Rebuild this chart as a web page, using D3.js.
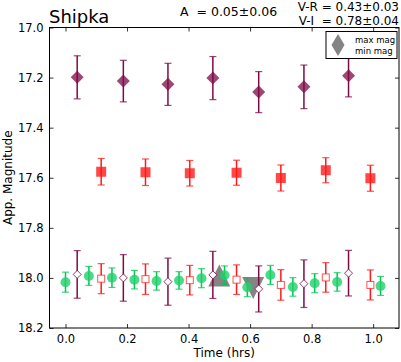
<!DOCTYPE html>
<html>
<head>
<meta charset="utf-8">
<script src="https://cdn.jsdelivr.net/npm/d3@7"></script>
<style>
  body { margin: 0; background: #fff; }
  text { font-family: "DejaVu Sans", sans-serif; }
</style>
</head>
<body>
<div id="chart"></div>
<script>
const w = 401;
const h = 362;

// I band (filled diamonds) and I shifted by V-I (open diamonds)
const iTime = [0.038, 0.188, 0.333, 0.479, 0.628, 0.775, 0.920];
const iMag = [17.199, 17.214, 17.227, 17.202, 17.258, 17.237, 17.193];
const iErr = [0.086, 0.083, 0.084, 0.086, 0.082, 0.087, 0.084];
const iShift = [17.986, 18.000, 18.015, 17.988, 18.044, 18.023, 17.981];
const iShiftErr = [0.095, 0.093, 0.094, 0.094, 0.092, 0.095, 0.091];

// R band (filled squares) and R shifted by V-R (open squares)
const rTime = [0.116, 0.260, 0.404, 0.556, 0.700, 0.846, 0.991];
const rMag = [17.576, 17.578, 17.582, 17.580, 17.601, 17.570, 17.602];
const rErr = [0.053, 0.053, 0.051, 0.050, 0.052, 0.050, 0.052];
const rShift = [18.003, 18.005, 18.009, 18.007, 18.028, 17.998, 18.028];
const rShiftErr = [0.060, 0.061, 0.059, 0.059, 0.061, 0.059, 0.060];

// V band (circles)
const vTime = [0.000, 0.076, 0.151, 0.224, 0.296, 0.369, 0.442, 0.517, 0.591, 0.666, 0.739, 0.810, 0.883, 1.024];
const vMag = [18.017, 17.992, 17.999, 18.007, 18.012, 18.010, 18.001, 17.989, 18.037, 17.988, 18.036, 18.021, 18.016, 18.032];
const vErr = [0.040, 0.038, 0.039, 0.037, 0.037, 0.035, 0.038, 0.037, 0.038, 0.038, 0.037, 0.038, 0.037, 0.038];

// extrema markers
const extTime = [0.500, 0.610];
const extMag = [17.990, 18.040];
const extLabels = ["max mag", "min mag"];

const xTicks = [0.0, 0.2, 0.4, 0.6, 0.8, 1.0];
const yTicks = [17.0, 17.2, 17.4, 17.6, 17.8, 18.0, 18.2];

const pLeft = 49.5, pRight = 399, pTop = 27.5, pBottom = 328;

const svg = d3.select("#chart").append("svg")
  .attr("width", w).attr("height", h);

const x = d3.scaleLinear().domain([-0.052, 1.084]).range([pLeft, pRight]);
const y = d3.scaleLinear().domain([17.0, 18.2]).range([pTop, pBottom]);

const purple = "#7d0a45";
const red = "#ff1a1a";
const green = "#1fcf6a";

// axes, ticks pointing in
const styleAxis = (g) => {
  g.select(".domain").remove();
  g.selectAll(".tick line").attr("stroke", "#000").attr("stroke-width", 0.8);
  g.selectAll(".tick text").attr("font-size", 11.5).attr("fill", "#000")
    .attr("font-family", "DejaVu Sans, sans-serif");
};
svg.append("g").attr("transform", "translate(0," + pBottom + ")")
  .call(d3.axisBottom(x).tickValues(xTicks).tickFormat(d3.format(".1f")).tickSize(-4).tickPadding(7))
  .call(styleAxis);
svg.append("g").attr("transform", "translate(0," + pTop + ")")
  .call(d3.axisTop(x).tickValues(xTicks).tickFormat("").tickSize(-4))
  .call(styleAxis);
svg.append("g").attr("transform", "translate(" + pLeft + ",0)")
  .call(d3.axisLeft(y).tickValues(yTicks).tickFormat(d3.format(".1f")).tickSize(-4).tickPadding(6))
  .call(styleAxis);
svg.append("g").attr("transform", "translate(" + pRight + ",0)")
  .call(d3.axisRight(y).tickValues(yTicks).tickFormat("").tickSize(-4))
  .call(styleAxis);

// extrema triangles (behind the points)
const tri = (cx, cy, sx, sy, up) => up
  ? `M${cx},${cy - sy}L${cx - sx},${cy + sy}L${cx + sx},${cy + sy}Z`
  : `M${cx},${cy + sy}L${cx - sx},${cy - sy}L${cx + sx},${cy - sy}Z`;
extTime.forEach((t, i) => {
  svg.append("path").attr("d", tri(x(t), y(extMag[i]), 11, 11, i === 0))
    .attr("fill", "#6f6f6f").attr("fill-opacity", 0.85);
});

const errorBars = (times, mags, errs, color) => {
  const g = svg.append("g");
  times.forEach((t, i) => {
    const cx = x(t), y1 = y(mags[i] - errs[i]), y2 = y(mags[i] + errs[i]);
    g.append("line").attr("x1", cx).attr("x2", cx).attr("y1", y1).attr("y2", y2)
      .attr("stroke", color).attr("stroke-width", 1.5);
    [y1, y2].forEach((cy) => {
      g.append("line").attr("x1", cx - 3.5).attr("x2", cx + 3.5).attr("y1", cy).attr("y2", cy)
        .attr("stroke", color).attr("stroke-width", 1.2).attr("stroke-opacity", 0.75);
    });
  });
};

const diamond = (cx, cy, s) => `M${cx},${cy - s}L${cx + s},${cy}L${cx},${cy + s}L${cx - s},${cy}Z`;

// V band circles
errorBars(vTime, vMag, vErr, "#00c853");
svg.append("g").selectAll("circle").data(vTime).join("circle")
  .attr("cx", (d) => x(d)).attr("cy", (d, i) => y(vMag[i])).attr("r", 5)
  .attr("fill", green).attr("fill-opacity", 0.8);

// R band
errorBars(rTime, rMag, rErr, red);
svg.append("g").selectAll("rect").data(rTime).join("rect")
  .attr("x", (d) => x(d) - 5).attr("y", (d, i) => y(rMag[i]) - 5)
  .attr("width", 10).attr("height", 10)
  .attr("fill", red).attr("fill-opacity", 0.8);
errorBars(rTime, rShift, rShiftErr, red);
svg.append("g").selectAll("rect").data(rTime).join("rect")
  .attr("x", (d) => x(d) - 3.5).attr("y", (d, i) => y(rShift[i]) - 3.5)
  .attr("width", 7).attr("height", 7)
  .attr("fill", "#fff").attr("stroke", red).attr("stroke-opacity", 0.75).attr("stroke-width", 1);

// I band
errorBars(iTime, iMag, iErr, purple);
svg.append("g").selectAll("path").data(iTime).join("path")
  .attr("d", (d, i) => diamond(x(d), y(iMag[i]), 6.5))
  .attr("fill", purple).attr("fill-opacity", 0.75);
errorBars(iTime, iShift, iShiftErr, purple);
svg.append("g").selectAll("path").data(iTime).join("path")
  .attr("d", (d, i) => diamond(x(d), y(iShift[i]), 4))
  .attr("fill", "#fff").attr("stroke", purple).attr("stroke-opacity", 0.8).attr("stroke-width", 1);

// frame
svg.append("rect").attr("x", pLeft).attr("y", pTop)
  .attr("width", pRight - pLeft).attr("height", pBottom - pTop)
  .attr("fill", "none").attr("stroke", "#000").attr("stroke-width", 1);

// legend
const lg = svg.append("g");
lg.append("rect").attr("x", 326).attr("y", 31.5).attr("width", 71).attr("height", 27)
  .attr("fill", "#fff").attr("stroke", "#000").attr("stroke-width", 1);
lg.append("path").attr("d", tri(338, 39.5, 6.5, 5.5, true)).attr("fill", "#6f6f6f").attr("fill-opacity", 0.85);
lg.append("path").attr("d", tri(338, 50.5, 6.5, 5.5, false)).attr("fill", "#6f6f6f").attr("fill-opacity", 0.85);
extLabels.forEach((t, i) => {
  lg.append("text").attr("x", 355).attr("y", 43 + i * 11).attr("font-size", 8.5).text(t);
});

// titles and labels
svg.append("text").attr("x", 49).attr("y", 23).attr("font-size", 18).text("Shipka");
svg.append("text").attr("x", 180).attr("y", 16).attr("font-size", 12.5).attr("xml:space", "preserve")
  .text("A  = 0.05\u00b10.06");
svg.append("text").attr("x", 399).attr("y", 11.2).attr("font-size", 12).attr("text-anchor", "end")
  .text("V-R = 0.43\u00b10.03");
svg.append("text").attr("x", 399).attr("y", 25.4).attr("font-size", 12).attr("text-anchor", "end")
  .attr("xml:space", "preserve").text("V-I  = 0.78\u00b10.04");
svg.append("text").attr("x", (pLeft + pRight) / 2).attr("y", 357).attr("font-size", 12)
  .attr("text-anchor", "middle").text("Time (hrs)");
svg.append("text").attr("transform", "translate(12," + ((pTop + pBottom) / 2) + ") rotate(-90)")
  .attr("font-size", 12).attr("text-anchor", "middle").text("App. Magnitude");
</script>
</body>
</html>
